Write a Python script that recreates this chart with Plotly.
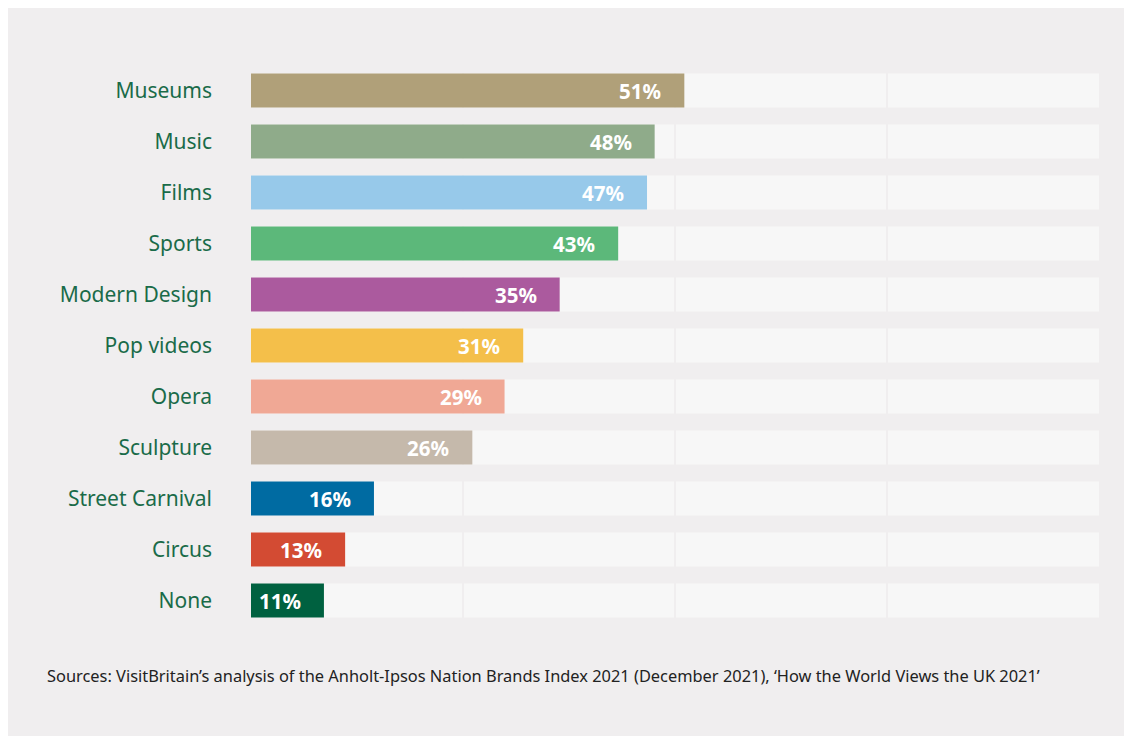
import plotly.graph_objects as go

categories = ["Museums", "Music", "Films", "Sports", "Modern Design", "Pop videos",
              "Opera", "Sculpture", "Street Carnival", "Circus", "None"]
# percentages as printed on the bars
label_values = [51, 48, 47, 43, 35, 31, 29, 26, 16, 13, 11]
bar_values = [51.1, 47.6, 46.7, 43.3, 36.4, 32.1, 29.9, 26.1, 14.5, 11.1, 8.6]
colors = ["#b0a079", "#8fab8a", "#97c9ea", "#5cb87a", "#ab5a9e", "#f4bf4a",
          "#f0a895", "#c5b9ab", "#006ba2", "#d34b33", "#006140"]
track_max = 100
grid_vals = [25, 50, 75]
source_text = ("Sources: VisitBritain\u2019s analysis of the Anholt-Ipsos Nation Brands Index 2021 "
               "(December 2021), \u2018How the World Views the UK 2021\u2019")

BG = "#f0eeef"
TRACK = "#f7f7f7"
LABEL = "#1a6b49"
BAR_W = 0.665

W, H = 1132, 744
OFF = 8  # page offset of the figure
ml = 251 - OFF
mr = W - (1099 - OFF)
mt = 64.5 - OFF
mb = H - (626.5 - OFF)
pw, ph = W - ml - mr, H - mt - mb

fig = go.Figure()
fig.add_trace(go.Bar(
    x=bar_values, y=categories, orientation="h",
    marker=dict(color=colors, line=dict(width=0)),
    width=BAR_W, hoverinfo="y",
))

shapes = []
for i, c in enumerate(categories):
    shapes.append(dict(type="rect", xref="x", yref="y", layer="below",
                       x0=0, x1=track_max, y0=i - BAR_W / 2, y1=i + BAR_W / 2,
                       fillcolor=TRACK, line=dict(width=0)))

annotations = []
for c, b, v in zip(categories, bar_values, label_values):
    annotations.append(dict(x=b, y=c, xref="x", yref="y", text=f"{v}%",
                            showarrow=False, xanchor="right", xshift=-21,
                            font=dict(family="Noto Sans", size=20.5, color="white", weight="bold")))
annotations.append(dict(x=(45 - OFF - ml) / pw, y=(H - mb - (676 - OFF)) / ph,
                        xref="paper", yref="paper",
                        text=source_text, showarrow=False, xanchor="left", yanchor="middle",
                        font=dict(family="Noto Sans", size=16.4, color="#222222")))

fig.update_layout(
    width=W, height=H,
    margin=dict(l=ml, r=mr, t=mt, b=mb),
    paper_bgcolor=BG, plot_bgcolor="rgba(0,0,0,0)",
    shapes=shapes, annotations=annotations,
    showlegend=False, bargap=0.33,
    xaxis=dict(range=[0, track_max], tickvals=grid_vals, showticklabels=False,
               showgrid=True, gridcolor=BG, gridwidth=2, zeroline=False,
               showline=False, fixedrange=True),
    yaxis=dict(range=[len(categories) - 0.5, -0.5], showgrid=False, zeroline=False,
               showline=False, ticks="", ticklabelstandoff=38,
               tickfont=dict(family="Noto Sans", size=21, color=LABEL), fixedrange=True),
)

page_bg = ("document.documentElement.style.overflow='hidden';"
           "document.body.style.overflow='hidden';"
           "document.documentElement.style.background="
           "'linear-gradient(to right, white 8px, transparent 8px), "
           "linear-gradient(to bottom, white 8px, " + BG + " 8px)';")
fig.write_html("out.html", post_script=page_bg)
